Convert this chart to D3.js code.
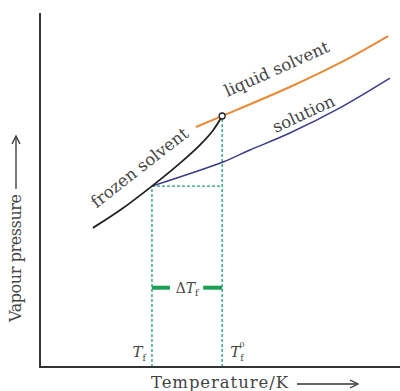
<!DOCTYPE html>
<html>
<head>
<meta charset="utf-8">
<script src="https://cdn.jsdelivr.net/npm/d3@7"></script>
<style>
  body { margin: 0; background: #fff; }
  svg { display: block; }
  text { font-family: "DejaVu Serif", "Liberation Serif", serif; fill: #444; }
</style>
</head>
<body>
<svg id="chart" width="400" height="391"></svg>
<script>
// curves, temperature (x) vs vapour pressure (y), arbitrary units 0-100
var frozenT = [14.7, 22.8, 31.1, 38.9, 44.4, 48.1, 50.6];
var frozenP = [39.3, 44.7, 51.1, 57.6, 62.7, 66.9, 70.9];
var liquidT = [43.3, 50.6, 69.4, 83.3, 96.7];
var liquidP = [67.8, 70.9, 79.1, 85.9, 93.5];
var solutionT = [31.1, 50.8, 58.3, 69.4, 83.3, 97.2];
var solutionP = [51.1, 57.9, 61.3, 66.1, 73.2, 81.6];
var Tf = 31.1, Tf0 = 50.6;
var Pf = 51.1, P0 = 70.9;
var deltaP = 22.4; // height of the ΔTf marker

var svg = d3.select("#chart");
var x = d3.scaleLinear().domain([0, 100]).range([40, 400]);
var y = d3.scaleLinear().domain([0, 100]).range([367, 13]);

function zip(a, b) { return a.map(function(d, i) { return [d, b[i]]; }); }
var line = d3.line().x(function(d) { return x(d[0]); }).y(function(d) { return y(d[1]); }).curve(d3.curveCatmullRom);

// dashed guides
var green = "#1f9a74";
var guides = [
  [[Tf, 0], [Tf, Pf]],
  [[Tf0, 0], [Tf0, P0]],
  [[Tf, Pf], [Tf0, Pf]]
];
svg.selectAll("line.guide").data(guides).enter().append("line")
  .attr("class", "guide")
  .attr("x1", function(d) { return x(d[0][0]); }).attr("y1", function(d) { return y(d[0][1]); })
  .attr("x2", function(d) { return x(d[1][0]); }).attr("y2", function(d) { return y(d[1][1]); })
  .attr("stroke", green).attr("stroke-width", 1.3).attr("stroke-dasharray", "3,2");

// ΔTf marker
svg.append("line").attr("x1", x(Tf)).attr("x2", x(Tf) + 18).attr("y1", y(deltaP)).attr("y2", y(deltaP))
  .attr("stroke", "#1aa055").attr("stroke-width", 4);
svg.append("line").attr("x1", x(Tf0) - 19).attr("x2", x(Tf0)).attr("y1", y(deltaP)).attr("y2", y(deltaP))
  .attr("stroke", "#1aa055").attr("stroke-width", 4);
var dt = svg.append("text").attr("x", (x(Tf) + x(Tf0)) / 2).attr("y", y(deltaP) + 5)
  .attr("text-anchor", "middle").style("font-size", "14px");
dt.append("tspan").text("\u0394");
dt.append("tspan").style("font-style", "italic").text("T");
dt.append("tspan").attr("dy", 3).style("font-size", "9px").text("f");

// curves
svg.append("path").attr("d", line(zip(liquidT, liquidP))).attr("fill", "none")
  .attr("stroke", "#e88a35").attr("stroke-width", 2);
svg.append("path").attr("d", line(zip(solutionT, solutionP))).attr("fill", "none")
  .attr("stroke", "#3d3a8a").attr("stroke-width", 1.5);
svg.append("path").attr("d", line(zip(frozenT, frozenP))).attr("fill", "none")
  .attr("stroke", "#222").attr("stroke-width", 1.8);
svg.append("circle").attr("cx", x(Tf0)).attr("cy", y(P0)).attr("r", 3)
  .attr("fill", "#fff").attr("stroke", "#222").attr("stroke-width", 1.3);

// axes
svg.append("path").attr("d", "M" + x(0) + "," + y(100) + "V" + y(0) + "H" + x(100))
  .attr("fill", "none").attr("stroke", "#333").attr("stroke-width", 2);

// curve labels
function label(txt, cx, cy, ang) {
  svg.append("text").attr("transform", "translate(" + cx + "," + cy + ") rotate(" + ang + ")")
    .attr("text-anchor", "middle").style("font-size", "16.5px").text(txt);
}
label("frozen solvent", 143, 172, -38);
label("liquid solvent", 279, 74, -24);
label("solution", 306, 119, -25);

// temperature labels
var t1 = svg.append("text").attr("x", x(Tf) - 6).attr("y", 357).attr("text-anchor", "end").style("font-size", "15px");
t1.append("tspan").style("font-style", "italic").text("T");
t1.append("tspan").attr("dy", 4).style("font-size", "9px").text("f");
var t2 = svg.append("text").attr("x", x(Tf0) + 8).attr("y", 357).style("font-size", "15px");
t2.append("tspan").style("font-style", "italic").text("T");
t2.append("tspan").attr("dy", 4).style("font-size", "9px").text("f");
t2.append("tspan").attr("dx", -4).attr("dy", -14).style("font-size", "8px").text("0");

// axis titles
svg.append("text").attr("x", 151).attr("y", 388).attr("textLength", 137).style("font-size", "16.5px").text("Temperature/K");
svg.append("text").attr("transform", "translate(21,322) rotate(-90)").attr("textLength", 128).style("font-size", "16px").text("Vapour pressure");

// arrows
var arrows = [
  [[297, 384], [356, 384]],
  [[16, 189], [16, 138]]
];
svg.selectAll("path.arrow").data(arrows).enter().append("path")
  .attr("class", "arrow")
  .attr("d", function(d) { return "M" + d[0][0] + "," + d[0][1] + "L" + d[1][0] + "," + d[1][1]; })
  .attr("stroke", "#333").attr("stroke-width", 1.3).attr("fill", "none");
svg.append("path").attr("d", "M350,380L358,384L350,388").attr("stroke", "#333").attr("stroke-width", 1.3).attr("fill", "none");
svg.append("path").attr("d", "M12,144L16,136L20,144").attr("stroke", "#333").attr("stroke-width", 1.3).attr("fill", "none");
</script>
</body>
</html>
